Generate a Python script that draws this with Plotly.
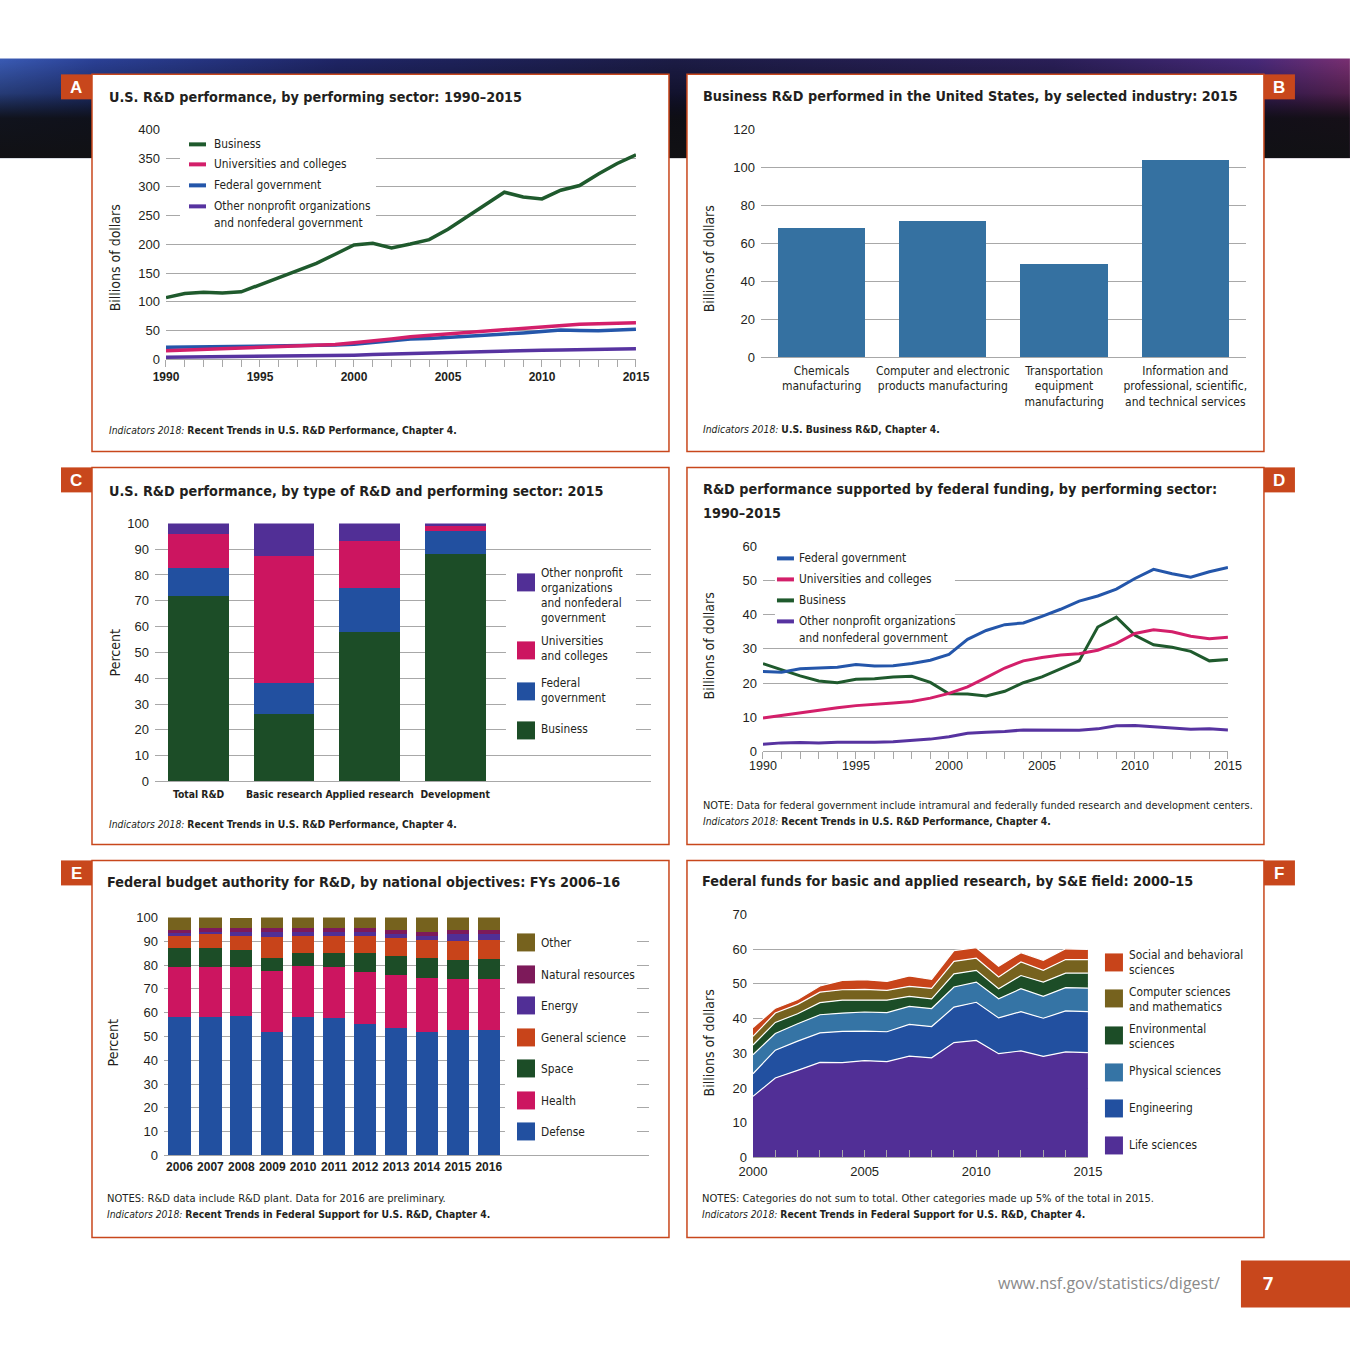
import base64
import plotly.graph_objects as go

W = H = 1350
# measured photo transform of the viewer: photo = O + S * page
OX, SX = 14.0, 0.9793
OY, SY = 6.65, 0.9888


def X(px):
    return ((px - OX) / SX) / W


def Y(py):
    return 1 - ((py - OY) / SY) / H


TXT = "DejaVu Sans Condensed, Liberation Sans Narrow, sans-serif"
NUM = "Liberation Sans, Arial, sans-serif"
DARK = "#231f20"
ORANGE = "#c8471c"
GRID = "#a8a8a8"

# ---------------- DATA ----------------
# Panel A: U.S. R&D performance by performing sector (billions of dollars)
years_a = list(range(1990, 2016))
a_business = [107.4, 114.7, 116.8, 115.4, 117.4, 129.8, 142.4, 155.4, 167.1, 182.8, 199.0, 202.0, 193.9,
              200.7, 208.3, 226.2, 247.7, 269.3, 290.7, 282.4, 279.0, 294.1, 302.3, 322.5, 340.7, 355.8]
a_universities = [15.0, 16.2, 17.2, 18.0, 18.9, 19.8, 20.8, 22.0, 23.6, 25.8, 28.8, 31.8, 35.5,
                  39.5, 42.0, 43.8, 46.0, 48.6, 51.5, 54.5, 57.2, 60.0, 61.2, 61.8, 62.2, 63.5]
a_federal = [21.0, 21.4, 21.8, 22.0, 22.3, 22.7, 22.8, 23.2, 23.8, 24.8, 26.5, 29.8, 33.0,
             35.5, 36.5, 38.2, 40.0, 42.5, 44.2, 46.0, 48.6, 51.2, 50.4, 49.6, 51.0, 52.4]
a_other = [3.5, 3.8, 4.0, 4.3, 4.5, 4.8, 5.1, 5.5, 6.0, 6.6, 7.3, 8.3, 9.3,
           10.2, 10.9, 11.6, 12.6, 13.5, 14.8, 15.5, 16.0, 16.4, 16.8, 17.2, 17.8, 18.4]

# Panel B: business R&D by selected industry, 2015
b_industries = ["Chemicals manufacturing",
                "Computer and electronic products manufacturing",
                "Transportation equipment manufacturing",
                "Information and professional, scientific, and technical services"]
b_ticktext = ["Chemicals<br>manufacturing",
              "Computer and electronic<br>products manufacturing",
              "Transportation<br>equipment<br>manufacturing",
              "Information and<br>professional, scientific,<br>and technical services"]
b_values = [67.9, 71.7, 49.1, 103.9]

# Panel C: R&D by type and performing sector, 2015 (percent)
c_types = ["Total R&D", "Basic research", "Applied research", "Development"]
c_business = [71.7, 26.1, 57.8, 88.0]
c_federal = [10.9, 12.1, 17.0, 9.0]
c_universities = [13.1, 49.0, 18.2, 1.8]
c_other = [4.3, 12.8, 7.0, 1.2]

# Panel D: federally funded R&D by performing sector (billions of dollars)
years_d = list(range(1990, 2016))
d_federal = [23.4, 23.2, 24.2, 24.5, 24.6, 25.4, 25.0, 25.1, 25.7, 26.7, 28.4, 32.8, 35.4,
             37.1, 37.6, 39.5, 41.6, 44.0, 45.5, 47.5, 50.6, 53.3, 52.0, 51.0, 52.6, 53.8]
d_universities = [9.8, 10.6, 11.4, 12.2, 12.8, 13.4, 13.9, 14.2, 14.6, 15.6, 17.0, 18.9, 21.6,
                  24.4, 26.5, 27.5, 28.2, 28.6, 29.6, 31.6, 34.5, 35.6, 35.0, 33.7, 33.0, 33.4]
d_business = [25.7, 23.9, 22.1, 20.6, 20.1, 21.1, 21.3, 21.8, 22.0, 20.2, 16.9, 16.8, 16.2,
              17.6, 20.1, 21.8, 24.1, 26.5, 36.4, 39.3, 34.0, 31.2, 30.5, 29.3, 26.5, 26.9]
d_other = [2.1, 2.5, 2.6, 2.5, 2.7, 2.6, 2.7, 2.8, 3.1, 3.6, 4.3, 5.3, 5.6,
           5.8, 6.3, 6.3, 6.2, 6.2, 6.6, 7.5, 7.6, 7.2, 6.8, 6.5, 6.6, 6.3]

# Panel E: federal budget authority for R&D by national objective (percent)
e_years = [str(y) for y in range(2006, 2017)]
e_defense = [58.0, 58.0, 58.7, 52.0, 58.0, 57.6, 55.3, 53.4, 52.0, 52.6, 52.6]
e_health = [21.0, 21.0, 20.3, 25.6, 21.4, 21.4, 21.9, 22.5, 22.7, 21.7, 21.7]
e_space = [8.0, 8.0, 7.2, 5.5, 5.6, 6.0, 7.8, 8.1, 8.4, 7.9, 8.4]
e_general_science = [5.3, 6.0, 6.1, 8.5, 7.0, 7.0, 7.0, 7.2, 7.5, 8.0, 7.9]
e_energy = [1.0, 0.7, 1.4, 2.1, 1.7, 1.7, 1.7, 1.7, 1.8, 2.7, 2.3]
e_natural_resources = [1.5, 2.0, 1.7, 1.7, 1.7, 1.7, 1.7, 1.7, 1.6, 1.7, 1.7]
e_other = [5.2, 4.3, 4.2, 4.6, 4.6, 4.6, 4.6, 5.4, 6.0, 5.4, 5.4]

# Panel F: federal funds for basic and applied research by S&E field (billions of dollars)
years_f = list(range(2000, 2016))
f_life = [17.6, 22.9, 25.1, 27.4, 27.3, 27.9, 27.6, 29.2, 28.7, 33.1, 33.7, 29.9, 30.7, 29.1, 30.4, 30.2]
f_engineering = [6.5, 8.0, 8.4, 8.5, 9.0, 8.5, 8.6, 9.1, 9.0, 10.2, 11.0, 10.3, 11.3, 11.0, 11.8, 11.8]
f_physical = [5.5, 4.8, 5.0, 5.2, 5.3, 5.5, 5.5, 5.2, 5.2, 5.8, 5.8, 5.5, 6.6, 6.3, 6.7, 6.8]
f_environmental = [2.8, 3.2, 2.9, 3.5, 3.7, 3.5, 3.6, 2.9, 2.8, 3.8, 3.4, 2.9, 3.8, 4.1, 4.2, 4.3]
f_computer = [2.5, 2.7, 2.7, 3.0, 3.0, 3.0, 2.8, 2.9, 3.0, 3.6, 3.5, 3.4, 3.9, 3.4, 3.9, 3.9]
f_social = [2.5, 1.4, 1.4, 1.8, 2.7, 2.8, 2.6, 3.0, 2.6, 3.1, 3.0, 3.1, 2.7, 2.9, 3.1, 2.9]

# ---------------- COLOURS ----------------
C_GREEN = "#1c4d27"
C_BLUE = "#2250a0"
C_MAGENTA = "#cc1560"
C_PURPLE = "#512f96"
L_GREEN = "#1f5a2d"
L_BLUE = "#2456aa"
L_MAGENTA = "#d31f6a"
L_PURPLE = "#5733a0"
C_STEEL = "#3571a1"
C_ORANGE = "#c8441a"
C_MAROON = "#7d1a5a"
C_OLIVE = "#76621e"
C_LIGHTBLUE = "#3574a5"

fig = go.Figure()

# ---- Panel A traces ----
for vals, col, name in [(a_other, L_PURPLE, "Other nonprofit organizations and nonfederal government"),
                        (a_federal, L_BLUE, "Federal government"),
                        (a_universities, L_MAGENTA, "Universities and colleges"),
                        (a_business, L_GREEN, "Business")]:
    fig.add_trace(go.Scatter(x=years_a, y=vals, mode="lines", name=name,
                             line=dict(color=col, width=3.5), xaxis="x", yaxis="y"))

# ---- Panel B ----
fig.add_trace(go.Bar(x=b_industries, y=b_values, width=0.72, marker=dict(color=C_STEEL, line=dict(width=0)),
                     name="Business R&D", xaxis="x2", yaxis="y2"))

# ---- Panel C ----
for vals, col, name in [(c_business, C_GREEN, "Business"),
                        (c_federal, C_BLUE, "Federal government"),
                        (c_universities, C_MAGENTA, "Universities and colleges"),
                        (c_other, C_PURPLE, "Other nonprofit organizations and nonfederal government")]:
    fig.add_trace(go.Bar(x=c_types, y=vals, width=0.71, marker=dict(color=col, line=dict(width=0)),
                         name=name, xaxis="x3", yaxis="y3"))

# ---- Panel D ----
for vals, col, name in [(d_other, L_PURPLE, "Other nonprofit organizations and nonfederal government"),
                        (d_business, L_GREEN, "Business"),
                        (d_universities, L_MAGENTA, "Universities and colleges"),
                        (d_federal, L_BLUE, "Federal government")]:
    fig.add_trace(go.Scatter(x=years_d, y=vals, mode="lines", name=name,
                             line=dict(color=col, width=3), xaxis="x4", yaxis="y4"))

# ---- Panel E ----
for vals, col, name in [(e_defense, C_BLUE, "Defense"),
                        (e_health, C_MAGENTA, "Health"),
                        (e_space, C_GREEN, "Space"),
                        (e_general_science, C_ORANGE, "General science"),
                        (e_energy, C_PURPLE, "Energy"),
                        (e_natural_resources, C_MAROON, "Natural resources"),
                        (e_other, C_OLIVE, "Other")]:
    fig.add_trace(go.Bar(x=e_years, y=vals, width=0.72, marker=dict(color=col, line=dict(width=0)),
                         name=name, xaxis="x5", yaxis="y5"))

# ---- Panel F ----
for vals, col, name in [(f_life, C_PURPLE, "Life sciences"),
                        (f_engineering, C_BLUE, "Engineering"),
                        (f_physical, C_LIGHTBLUE, "Physical sciences"),
                        (f_environmental, C_GREEN, "Environmental sciences"),
                        (f_computer, C_OLIVE, "Computer sciences and mathematics"),
                        (f_social, C_ORANGE, "Social and behavioral sciences")]:
    fig.add_trace(go.Scatter(x=years_f, y=vals, mode="lines", stackgroup="f", name=name,
                             fillcolor=col, line=dict(color="white", width=1.2),
                             xaxis="x6", yaxis="y6"))


# ---------------- AXES ----------------
def yax(top, bottom, rng, dtick, anchor):
    return dict(domain=[Y(bottom), Y(top)], range=rng, dtick=dtick, tick0=0,
                showgrid=True, gridcolor=GRID, gridwidth=1, zeroline=False, showline=False,
                ticks="", ticklabelstandoff=5, tickfont=dict(family=NUM, size=13, color=DARK),
                anchor=anchor, fixedrange=True)


def xnum(left, right, rng, anchor, ticks, bold, size, standoff):
    return dict(domain=[X(left), X(right)], range=rng, tick0=rng[0], dtick=5,
                ticks=ticks, ticklen=7, tickcolor=GRID, tickwidth=1,
                minor=dict(dtick=1, tick0=rng[0], ticks=ticks, ticklen=7, tickcolor=GRID, showgrid=False),
                showline=True, linecolor=GRID, linewidth=1, showgrid=False, zeroline=False,
                ticklabelstandoff=standoff, tickangle=0,
                tickfont=dict(family=NUM, size=size, color=DARK, weight="bold" if bold else "normal"),
                anchor=anchor, fixedrange=True)


def xcat(left, right, rng, anchor, size, bold, family, standoff):
    return dict(domain=[X(left), X(right)], range=rng, type="category",
                ticks="", showline=True, linecolor=GRID, linewidth=1, showgrid=False, zeroline=False,
                tickangle=0, ticklabelstandoff=standoff,
                tickfont=dict(family=family, size=size, color=DARK, weight="bold" if bold else "normal"),
                anchor=anchor, fixedrange=True)


layout = dict(
    width=W, height=H, margin=dict(l=0, r=0, t=0, b=0),
    paper_bgcolor="white", plot_bgcolor="rgba(0,0,0,0)",
    showlegend=False, barmode="stack",
    xaxis=xnum(166, 636, [1990, 2015], "y", "outside", True, 12, -1),
    yaxis=yax(129, 359, [0, 400], 50, "x"),
    xaxis2=xcat(761, 1246, [-0.5, 3.5], "y2", 12, False, TXT, 2),
    yaxis2=yax(129, 357, [0, 120], 20, "x2"),
    xaxis3=xcat(155, 651, [-0.51, 5.29], "y3", 10.3, True, TXT, 3),
    yaxis3=yax(523, 781, [0, 100], 10, "x3"),
    xaxis4=xnum(763, 1228, [1990, 2015], "y4", "outside", False, 12.5, -4),
    yaxis4=yax(546, 751, [0, 60], 10, "x4"),
    xaxis5=xcat(164, 649, [-0.5, 15.18], "y5", 12, True, NUM, 0),
    yaxis5=yax(917, 1155, [0, 100], 10, "x5"),
    xaxis6=xnum(753, 1088, [2000, 2015], "y6", "inside", False, 13, 2),
    yaxis6=yax(914, 1157, [0, 70], 10, "x6"),
)
layout["xaxis2"]["tickvals"] = b_industries
layout["xaxis2"]["ticktext"] = b_ticktext

shapes = []
ann = []


def rect(x0, y0, x1, y1, fill, line=None, lw=0, layer="below"):
    shapes.append(dict(type="rect", xref="paper", yref="paper", x0=X(x0), x1=X(x1), y0=Y(y1), y1=Y(y0),
                       fillcolor=fill, line=dict(color=line or fill, width=lw), layer=layer))


def hline(x0, x1, y, color, width=4):
    shapes.append(dict(type="line", xref="paper", yref="paper", x0=X(x0), x1=X(x1), y0=Y(y), y1=Y(y),
                       line=dict(color=color, width=width), layer="above"))


def txt(x, y, s, size=14, color=DARK, family=TXT, xanchor="left", yanchor="middle",
        weight="normal", angle=0):
    ann.append(dict(x=X(x), y=Y(y), xref="paper", yref="paper", text=s, showarrow=False,
                    xanchor=xanchor, yanchor=yanchor, align="left", textangle=angle,
                    borderpad=0, font=dict(family=family, size=size, color=color, weight=weight)))


# ---- panel frames and letter tags ----
panels = [
    ("A", 92, 74, 669, 451, "left"),
    ("B", 687, 74, 1264, 451, "right"),
    ("C", 92, 467, 669, 844, "left"),
    ("D", 687, 467, 1264, 844, "right"),
    ("E", 92, 860, 669, 1237, "left"),
    ("F", 687, 860, 1264, 1237, "right"),
]
for letter, x0, y0, x1, y1, side in panels:
    rect(x0, y0, x1, y1, "white", ORANGE, 1.5)
    if side == "left":
        rect(61, y0, x0, y0 + 25, ORANGE, ORANGE, 0)
        txt((61 + x0) / 2, y0 + 13, letter, 17, "white", NUM, "center", weight="bold")
    else:
        rect(x1, y0, x1 + 31, y0 + 25, ORANGE, ORANGE, 0)
        txt(x1 + 15.5, y0 + 13, letter, 17, "white", NUM, "center", weight="bold")

# ---- titles ----
TS = 14.3
txt(108, 97, "U.S. R&D performance, by performing sector: 1990–2015", TS, weight="bold")
txt(702, 96, "Business R&D performed in the United States, by selected industry: 2015", TS, weight="bold")
txt(108, 491, "U.S. R&D performance, by type of R&D and performing sector: 2015", TS, weight="bold")
txt(702, 489, "R&D performance supported by federal funding, by performing sector:", TS, weight="bold")
txt(702, 513, "1990–2015", TS, weight="bold")
txt(106, 882, "Federal budget authority for R&D, by national objectives: FYs 2006–16", TS, weight="bold")
txt(701, 881, "Federal funds for basic and applied research, by S&E field: 2000–15", TS, weight="bold")

# ---- y-axis titles ----
YT = 14
txt(115, 257, "Billions of dollars", YT, angle=-90, xanchor="center")
txt(709, 258, "Billions of dollars", YT, angle=-90, xanchor="center")
txt(115, 652, "Percent", YT, angle=-90, xanchor="center")
txt(709, 645, "Billions of dollars", YT, angle=-90, xanchor="center")
txt(113, 1042, "Percent", YT, angle=-90, xanchor="center")
txt(709, 1042, "Billions of dollars", YT, angle=-90, xanchor="center")

# ---- notes and sources ----
NS = 11.1
SS = 10.3
txt(108, 430, "<i>Indicators 2018:</i> <b>Recent Trends in U.S. R&D Performance, Chapter 4.</b>", SS)
txt(702, 429, "<i>Indicators 2018:</i> <b>U.S. Business R&D, Chapter 4.</b>", SS)
txt(108, 824, "<i>Indicators 2018:</i> <b>Recent Trends in U.S. R&D Performance, Chapter 4.</b>", SS)
txt(702, 805, "NOTE: Data for federal government include intramural and federally funded research and development centers.", NS - 0.2)
txt(702, 821, "<i>Indicators 2018:</i> <b>Recent Trends in U.S. R&D Performance, Chapter 4.</b>", SS)
txt(106, 1198, "NOTES: R&D data include R&D plant. Data for 2016 are preliminary.", NS)
txt(106, 1214, "<i>Indicators 2018:</i> <b>Recent Trends in Federal Support for U.S. R&D, Chapter 4.</b>", SS)
txt(701, 1198, "NOTES: Categories do not sum to total. Other categories made up 5% of the total in 2015.", NS)
txt(701, 1214, "<i>Indicators 2018:</i> <b>Recent Trends in Federal Support for U.S. R&D, Chapter 4.</b>", SS)

LS = 11.8
# ---- legend A ----
rect(180, 135, 376, 232, "white", "white", 0, layer="above")
for yy, col, lines in [(144, L_GREEN, ["Business"]),
                       (164, L_MAGENTA, ["Universities and colleges"]),
                       (185, L_BLUE, ["Federal government"]),
                       (206, L_PURPLE, ["Other nonprofit organizations", "and nonfederal government"])]:
    hline(189, 206, yy, col)
    for i, s in enumerate(lines):
        txt(213, yy + i * 17, s, LS)

# ---- legend C ----
rect(506, 560, 636, 745, "white", "white", 0, layer="above")
for ytop, col, lines, ty in [(573, C_PURPLE, ["Other nonprofit", "organizations", "and nonfederal", "government"], 573),
                             (641, C_MAGENTA, ["Universities", "and colleges"], 641),
                             (682, C_BLUE, ["Federal", "government"], 683),
                             (721, C_GREEN, ["Business"], 729)]:
    rect(517, ytop, 535, ytop + 18, col, col, 0, layer="above")
    for i, s in enumerate(lines):
        txt(540, ty + i * 14.7, s, LS)

# ---- legend D ----
rect(775, 549, 955, 644, "white", "white", 0, layer="above")
for yy, col, lines in [(558, L_BLUE, ["Federal government"]),
                       (579, L_MAGENTA, ["Universities and colleges"]),
                       (600, L_GREEN, ["Business"]),
                       (621, L_PURPLE, ["Other nonprofit organizations", "and nonfederal government"])]:
    hline(777, 794, yy, col)
    for i, s in enumerate(lines):
        txt(798, yy + i * 16.5, s, LS)

# ---- legend E ----
rect(505, 925, 637, 1145, "white", "white", 0, layer="above")
for ytop, col, s in [(933, C_OLIVE, "Other"), (965, C_MAROON, "Natural resources"),
                     (996, C_PURPLE, "Energy"), (1028, C_ORANGE, "General science"),
                     (1059, C_GREEN, "Space"), (1091, C_MAGENTA, "Health"),
                     (1122, C_BLUE, "Defense")]:
    rect(517, ytop, 535, ytop + 18, col, col, 0, layer="above")
    txt(540, ytop + 9.5, s, LS)

# ---- legend F ----
for ytop, col, lines, ty in [(953, C_ORANGE, ["Social and behavioral", "sciences"], 955),
                             (989, C_OLIVE, ["Computer sciences", "and mathematics"], 992),
                             (1026, C_GREEN, ["Environmental", "sciences"], 1029),
                             (1063, C_LIGHTBLUE, ["Physical sciences"], 1071),
                             (1099, C_BLUE, ["Engineering"], 1108),
                             (1136, C_PURPLE, ["Life sciences"], 1145)]:
    rect(1105, ytop, 1123, ytop + 18, col, col, 0, layer="above")
    for i, s in enumerate(lines):
        txt(1128, ty + i * 14.8, s, LS)

# ---- footer ----
rect(1241, 1260, 1372, 1307, ORANGE, ORANGE, 0)
txt(1268, 1283, "7", 18, "white", "Open Sans, sans-serif", "center", weight="bold")
txt(1221, 1283, "www.nsf.gov/statistics/digest/", 16, "#8a8a8a", "Open Sans, sans-serif", "right")

# ---- header band (decorative gradient) ----
svg = (
    "<svg xmlns='http://www.w3.org/2000/svg' width='1350' height='100' preserveAspectRatio='none'>"
    "<defs>"
    "<linearGradient id='h' x1='0' y1='0' x2='1' y2='0'>"
    "<stop offset='0' stop-color='#3a5bb5'/>"
    "<stop offset='0.07' stop-color='#2b4197'/>"
    "<stop offset='0.25' stop-color='#1f2566'/>"
    "<stop offset='0.5' stop-color='#1c1c46'/>"
    "<stop offset='0.78' stop-color='#2a1f58'/>"
    "<stop offset='0.93' stop-color='#47297a'/>"
    "<stop offset='1' stop-color='#7a2f72'/>"
    "</linearGradient>"
    "<linearGradient id='v' x1='0' y1='0' x2='0' y2='1'>"
    "<stop offset='0' stop-color='#000' stop-opacity='0'/>"
    "<stop offset='0.35' stop-color='#000' stop-opacity='0.35'/>"
    "<stop offset='0.6' stop-color='#0d0d10' stop-opacity='0.92'/>"
    "<stop offset='1' stop-color='#111114' stop-opacity='1'/>"
    "</linearGradient>"
    "</defs>"
    "<rect width='1350' height='100' fill='url(#h)'/>"
    "<rect width='1350' height='100' fill='url(#v)'/>"
    "</svg>"
)
uri = "data:image/svg+xml;base64," + base64.b64encode(svg.encode()).decode()
bx0, bx1 = X(0), X(1350)
layout["images"] = [dict(source=uri, xref="paper", yref="paper", x=bx0, y=Y(58), sizex=bx1 - bx0,
                         sizey=Y(58) - Y(158), sizing="stretch", xanchor="left", yanchor="top",
                         layer="below")]

layout["shapes"] = shapes
layout["annotations"] = ann
fig.update_layout(**layout)
fig.write_html(
    "out.html",
    config={"displayModeBar": False},
    post_script=(
        "document.documentElement.style.margin='0';document.documentElement.style.padding='0';"
        "document.documentElement.style.overflow='hidden';"
        "document.body.style.margin='0';document.body.style.padding='0';document.body.style.overflow='hidden';"
        "var gd=document.getElementById('{plot_id}');"
        "gd.style.position='fixed';gd.style.left='0px';gd.style.top='0px';"
    ),
)
